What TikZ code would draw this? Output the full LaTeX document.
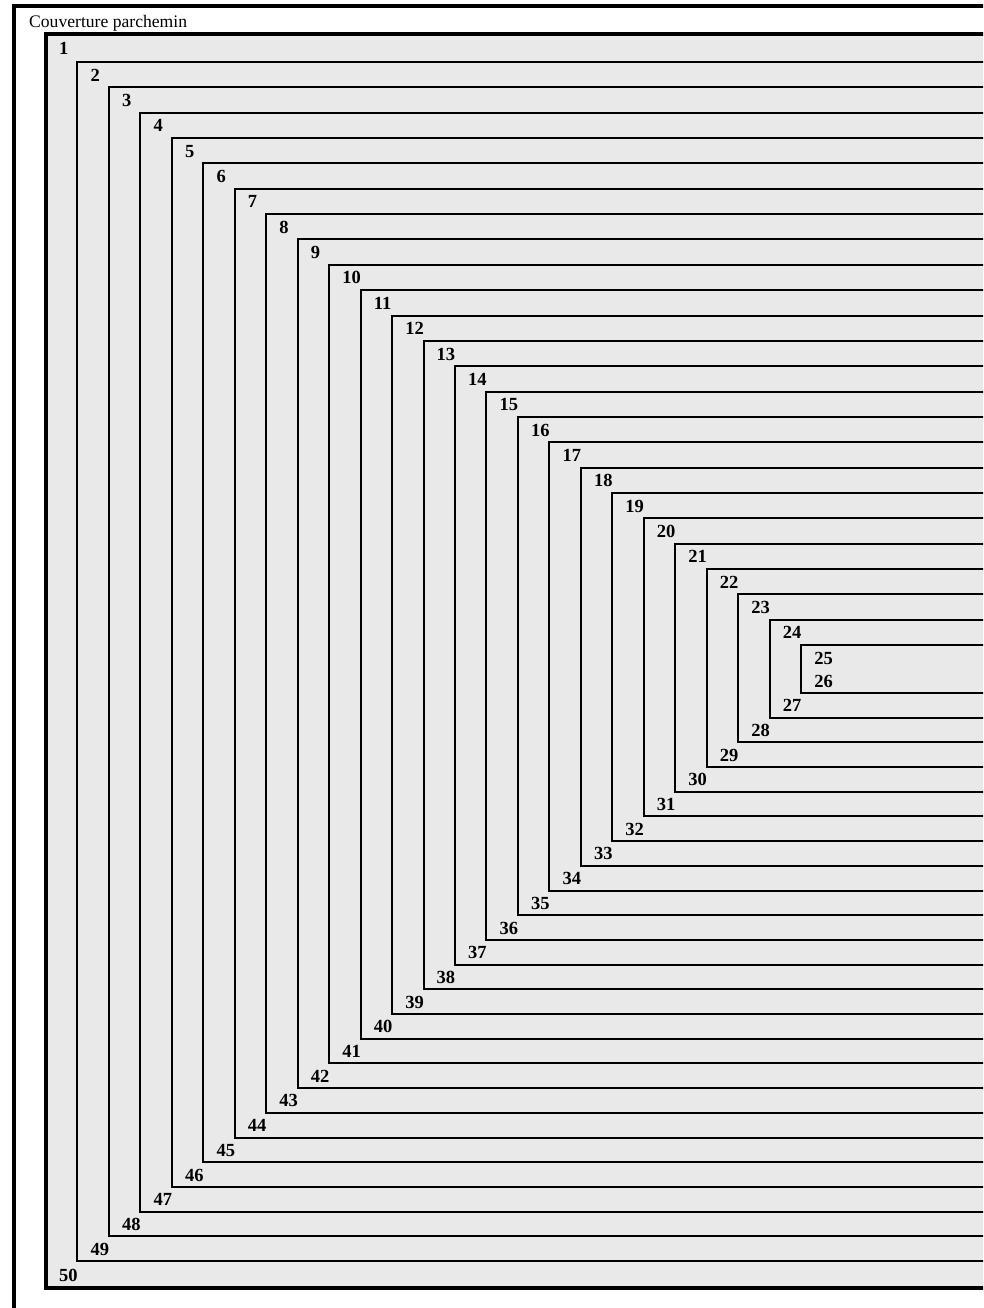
\documentclass[tikz,border=0pt]{standalone}
\usepackage{fontspec}
\setmainfont{Liberation Serif}
\definecolor{quire}{RGB}{233,233,233}
\tikzset{
  thinline/.style={line width=1.6pt, line join=miter},
  thickline/.style={line width=4pt, line join=miter},
  num/.style={anchor=base west, inner sep=0pt, font=\fontsize{18.5}{18.5}\selectfont\bfseries},
  title/.style={anchor=base west, inner sep=0pt, font=\fontsize{17.6}{17.6}\selectfont}
}
\begin{document}
\begin{tikzpicture}[x=1pt,y=-1pt]
\useasboundingbox (0,0) rectangle (983,1308);
\clip (0,0) rectangle (983,1308);
\fill[quire] (46,34.5) rectangle (1000,1288);
% cover
\draw[thickline] (1000,6.5) -- (14,6.5) -- (14,1330);
\node[title] (cover) at (29,28) {Couverture parchemin};
% outer bifolium
\draw[thickline] (1000,34.5) -- (46,34.5) -- (46,1288) -- (1000,1288);
\foreach \k in {2,...,25} {
  \pgfmathsetmacro\L{round(46+(\k-1)*31.46)}
  \pgfmathsetmacro\T{round(62+(\k-2)*25.35)}
  \pgfmathsetmacro\B{round(1261-(\k-2)*24.7)}
  \draw[thinline] (1000,\T) -- (\L,\T) -- (\L,\B) -- (1000,\B);
}
% labels
\node[num] (n1) at (59,48.25+6.5) {1};
\node[num] (n50) at (59,1274.5+6.5) {50};
\foreach \k in {2,...,24} {
  \pgfmathsetmacro\L{46+(\k-1)*31.46+13}
  \pgfmathsetmacro\T{62+(\k-2)*25.35+12.675+6.5}
  \pgfmathsetmacro\B{1261-(\k-2)*24.7-12.35+6.5}
  \pgfmathtruncatemacro\m{51-\k}
  \node[num] (n\k) at (\L,\T) {\k};
  \node[num] (n\m) at (\L,\B) {\m};
}
\node[num] (n25) at (46+24*31.46+13,657.5+6.5) {25};
\node[num] (n26) at (46+24*31.46+13,681+6.5) {26};
\end{tikzpicture}
\end{document}
